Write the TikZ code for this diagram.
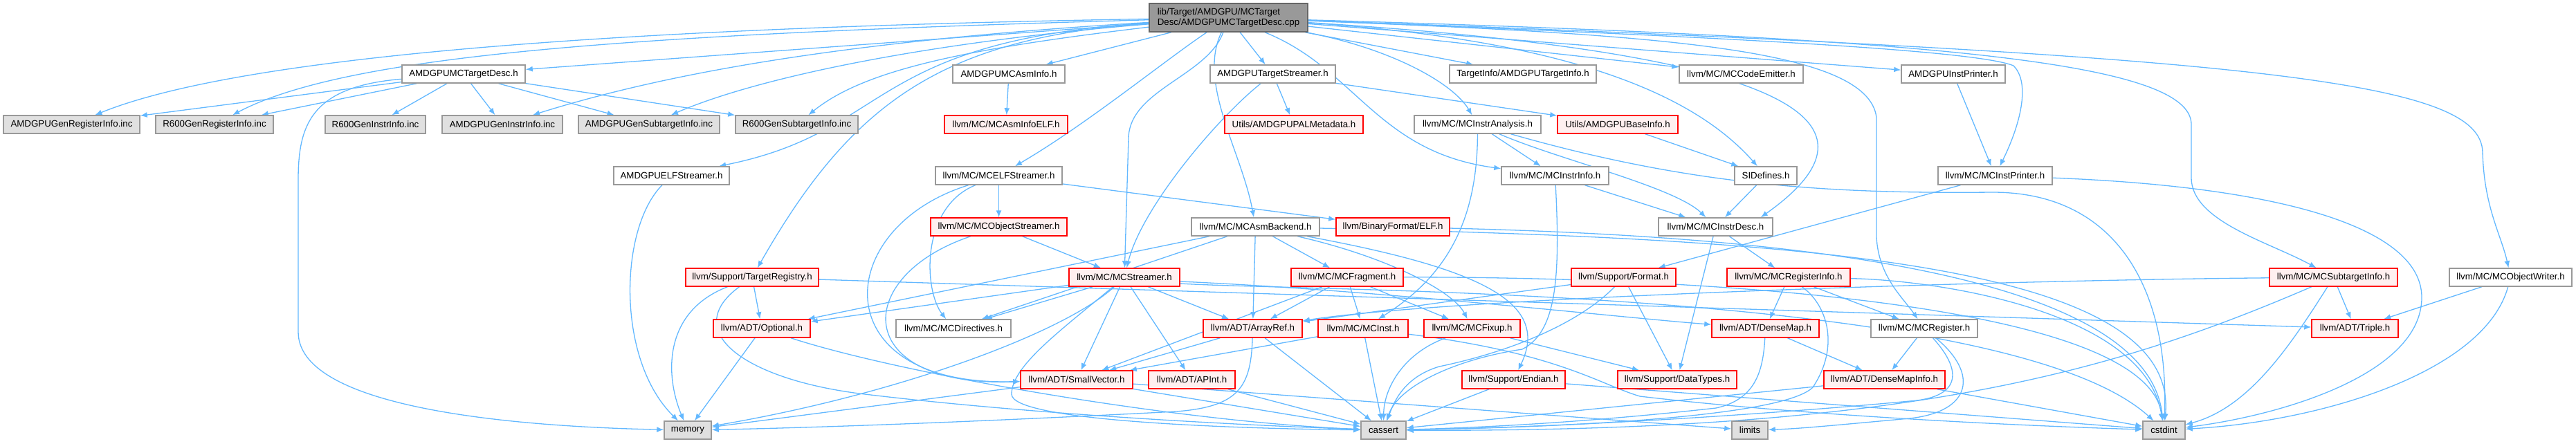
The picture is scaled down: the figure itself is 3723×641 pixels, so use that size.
\documentclass[tikz,border=0pt]{standalone}
\usepackage{fontspec}
\setmainfont{Liberation Sans}
\usetikzlibrary{arrows.meta}
\pgfdeclarelayer{edgelayer}
\pgfsetlayers{edgelayer,main}
\definecolor{edgec}{HTML}{63B8FF}
\definecolor{grayb}{HTML}{999999}
\definecolor{grayf}{HTML}{E0E0E0}
\definecolor{redb}{HTML}{FF0000}
\definecolor{redf}{HTML}{FFF0F0}
\definecolor{rootf}{HTML}{999999}
\definecolor{rootb}{HTML}{666666}
\newcommand\nodefont{\fontsize{13.3}{15.5}\selectfont}
\tikzset{
  boxbase/.style={rectangle, minimum height=26pt, inner sep=0pt, line width=1.5pt, font=\nodefont},
  wn/.style={boxbase, draw=grayb, fill=white},
  gn/.style={boxbase, draw=grayb, fill=grayf},
  rn/.style={boxbase, draw=redb, fill=redf},
  rootn/.style={boxbase, draw=rootb, fill=rootf},
  ed/.style={draw=edgec, line width=1.3pt, -{Latex[length=10pt,width=8pt]}}
}
\begin{document}
\begin{tikzpicture}[x=1pt,y=-1pt]
\useasboundingbox (0,0) rectangle (3723,641);
% root
\node[rootn, minimum width=229pt, minimum height=41pt, align=left] (R) at (1775.5,25.5) {lib/Target/AMDGPU/MCTarget\\Desc/AMDGPUMCTargetDesc.cpp};
% row 1
\node[wn, minimum width=178pt] (TD) at (670,107) {AMDGPUMCTargetDesc.h};
\node[wn, minimum width=162pt] (AsmInfo) at (1458,107) {AMDGPUMCAsmInfo.h};
\node[wn, minimum width=181pt] (TS) at (1839.5,107) {AMDGPUTargetStreamer.h};
\node[wn, minimum width=212pt] (TInfo) at (2201,107) {TargetInfo/AMDGPUTargetInfo.h};
\node[wn, minimum width=179pt] (CodeEm) at (2516.5,107) {llvm/MC/MCCodeEmitter.h};
\node[wn, minimum width=150pt] (AIP) at (2823,107) {AMDGPUInstPrinter.h};
% row 2
\node[gn, minimum width=197pt] (GRI) at (103.5,180) {AMDGPUGenRegisterInfo.inc};
\node[gn, minimum width=170pt] (R6GRI) at (310,180) {R600GenRegisterInfo.inc};
\node[gn, minimum width=145pt] (R6GII) at (542.5,180) {R600GenInstrInfo.inc};
\node[gn, minimum width=174pt] (GII) at (726,180) {AMDGPUGenInstrInfo.inc};
\node[gn, minimum width=204pt] (GSI) at (938,180) {AMDGPUGenSubtargetInfo.inc};
\node[gn, minimum width=177pt] (R6GSI) at (1151.5,180) {R600GenSubtargetInfo.inc};
\node[rn, minimum width=178pt] (AIELF) at (1454,180) {llvm/MC/MCAsmInfoELF.h};
\node[rn, minimum width=200pt] (PAL) at (1870,180) {Utils/AMDGPUPALMetadata.h};
\node[wn, minimum width=183pt] (MIA) at (2135.5,180) {llvm/MC/MCInstrAnalysis.h};
\node[rn, minimum width=174pt] (BI) at (2338,180) {Utils/AMDGPUBaseInfo.h};
% row 3
\node[wn, minimum width=167pt] (ELFS) at (970.5,254) {AMDGPUELFStreamer.h};
\node[wn, minimum width=183pt] (MCE) at (1443.5,254) {llvm/MC/MCELFStreamer.h};
\node[wn, minimum width=155pt] (MII) at (2247.5,254) {llvm/MC/MCInstrInfo.h};
\node[wn, minimum width=90pt] (SID) at (2552,254) {SIDefines.h};
\node[wn, minimum width=165pt] (MIP) at (2883.5,254) {llvm/MC/MCInstPrinter.h};
% row 4
\node[rn, minimum width=197pt] (MOS) at (1443.5,328) {llvm/MC/MCObjectStreamer.h};
\node[wn, minimum width=185pt] (AsmB) at (1814.5,328) {llvm/MC/MCAsmBackend.h};
\node[rn, minimum width=164pt] (ELF) at (2013,328) {llvm/BinaryFormat/ELF.h};
\node[wn, minimum width=165pt] (MID) at (2479.5,328) {llvm/MC/MCInstrDesc.h};
% row 5
\node[rn, minimum width=192pt] (TReg) at (1087,401) {llvm/Support/TargetRegistry.h};
\node[rn, minimum width=160pt] (MCS) at (1625,401) {llvm/MC/MCStreamer.h};
\node[rn, minimum width=162pt] (MCF) at (1947,401) {llvm/MC/MCFragment.h};
\node[rn, minimum width=151pt] (Fmt) at (2346.5,401) {llvm/Support/Format.h};
\node[rn, minimum width=178pt] (MRI) at (2585,401) {llvm/MC/MCRegisterInfo.h};
\node[rn, minimum width=185pt] (MSI) at (3372.5,401) {llvm/MC/MCSubtargetInfo.h};
\node[wn, minimum width=177pt] (MOW) at (3628.5,401) {llvm/MC/MCObjectWriter.h};
% row 6
\node[rn, minimum width=140pt] (Opt) at (1101,475) {llvm/ADT/Optional.h};
\node[wn, minimum width=166pt] (MDir) at (1378,475) {llvm/MC/MCDirectives.h};
\node[rn, minimum width=143pt] (AR) at (1810.5,475) {llvm/ADT/ArrayRef.h};
\node[rn, minimum width=130pt] (MI) at (1970,475) {llvm/MC/MCInst.h};
\node[rn, minimum width=139pt] (MFx) at (2127.5,475) {llvm/MC/MCFixup.h};
\node[rn, minimum width=155pt] (DM) at (2551.5,475) {llvm/ADT/DenseMap.h};
\node[wn, minimum width=154pt] (MR) at (2781,475) {llvm/MC/MCRegister.h};
\node[rn, minimum width=125pt] (Tri) at (3403.5,475) {llvm/ADT/Triple.h};
% row 7
\node[rn, minimum width=162pt] (SV) at (1556,549) {llvm/ADT/SmallVector.h};
\node[rn, minimum width=125pt] (APInt) at (1722.5,549) {llvm/ADT/APInt.h};
\node[rn, minimum width=149pt] (End) at (2187.5,549) {llvm/Support/Endian.h};
\node[rn, minimum width=172pt] (DT) at (2424,549) {llvm/Support/DataTypes.h};
\node[rn, minimum width=175pt] (DMI) at (2723.5,549) {llvm/ADT/DenseMapInfo.h};
% row 8
\node[gn, minimum width=68pt] (mem) at (994,622) {memory};
\node[gn, minimum width=65pt] (cassert) at (1999.5,622) {cassert};
\node[gn, minimum width=52pt] (limits) at (2529,622) {limits};
\node[gn, minimum width=61pt] (cstdint) at (3127.5,622) {cstdint};

\begin{pgfonlayer}{edgelayer}
% ---- edges from root
\draw[ed] (R) .. controls (900,40) and (350,80) .. (GRI);
\draw[ed] (R) .. controls (900,50) and (500,80) .. (R6GRI);
\draw[ed] (R) -- (TD);
\draw[ed] (R) .. controls (1200,60) and (950,110) .. (GII);
\draw[ed] (R) .. controls (1350,60) and (1100,110) .. (GSI);
\draw[ed] (R) .. controls (1400,70) and (1250,100) .. (R6GSI);
\draw[ed] (R) .. controls (1250,60) and (1290,190) .. (ELFS);
\draw[ed] (R) .. controls (1360,55) and (1230,150) .. (TReg);
\draw[ed] (R) -- (AsmInfo);
\draw[ed] (R) .. controls (1680,90) and (1570,180) .. (MCE);
\draw[ed] (R) .. controls (1745,110) and (1632,130) .. (1631,200) -- (MCS);
\draw[ed] (R) .. controls (1730,120) and (1795,220) .. (AsmB);
\draw[ed] (R) -- (TS);
\draw[ed] (R) -- (TInfo);
\draw[ed] (R) .. controls (2010,70) and (2100,120) .. (MIA);
\draw[ed] (R) .. controls (1960,100) and (1990,220) .. (MII);
\draw[ed] (R) .. controls (2300,60) and (2460,150) .. (SID);
\draw[ed] (R) -- (CodeEm);
\draw[ed] (R) .. controls (2650,80) and (2720,190) .. ([xshift=-18pt]MID.north east);
\draw[ed] (R) -- (AIP);
\draw[ed] (R) .. controls (2400,50) and (2850,70) .. (2910,95) .. controls (2935,120) and (2920,180) .. (MIP);
\draw[ed] (R) .. controls (2400,50) and (2700,70) .. (2712,170) -- (2712,343) .. controls (2715,400) and (2750,430) .. (MR);
\draw[ed] (R) .. controls (2800,55) and (3167,90) .. (3167,180) -- (3167,257) .. controls (3167,320) and (3280,350) .. (MSI);
\draw[ed] (R) .. controls (3300,80) and (3585,120) .. (3588,220) .. controls (3590,300) and (3615,340) .. (MOW);

% ---- AMDGPUMCTargetDesc.h
\draw[ed] (TD) -- (GRI);
\draw[ed] (TD) -- (R6GRI);
\draw[ed] (TD) -- (R6GII);
\draw[ed] (TD) -- (GII);
\draw[ed] (TD) -- (GSI);
\draw[ed] (TD) -- (R6GSI);
\draw[ed] (TD) .. controls (450,125) and (431,180) .. (431,260) -- (431,480) .. controls (431,600) and (800,618) .. (mem);

% ---- row 1 others
\draw[ed] (AsmInfo) -- (AIELF);
\draw[ed] (TS) -- (PAL);
\draw[ed] (TS) -- (BI);
\draw[ed] (TS) .. controls (1760,170) and (1650,300) .. (MCS);
\draw[ed] (AIP) -- (MIP);

% ---- row 2/3
\draw[ed] (ELFS) .. controls (895,330) and (890,520) .. (mem);
\draw[ed] (MCE) -- (MOS);
\draw[ed] (MCE) -- (ELF);
\draw[ed] (MCE) .. controls (1330,300) and (1335,420) .. (MDir);
\draw[ed] (MCE) .. controls (1200,330) and (1190,560) .. (SV);
\draw[ed] (MIA) .. controls (2135,320) and (2090,400) .. (MI);
\draw[ed] (MIA) -- (MII);
\draw[ed] (MIA) .. controls (2250,230) and (2420,270) .. (MID);
\draw[ed] (MIA) .. controls (2450,270) and (2650,280) .. (2880,278) .. controls (3060,278) and (3135,420) .. (cstdint);
\draw[ed] (BI) -- (SID);
\draw[ed] (MII) -- (MID);
\draw[ed] (MII) .. controls (2255,400) and (2250,480) .. (2200,505) .. controls (2100,520) and (2020,560) .. (cassert);
\draw[ed] (SID) -- (MID);
\draw[ed] (MIP) -- (Fmt);
\draw[ed] (MIP) .. controls (3300,270) and (3500,330) .. (3500,430) .. controls (3500,540) and (3300,600) .. (cstdint);

% ---- row 4
\draw[ed] (MOS) -- (MCS);
\draw[ed] (MOS) .. controls (1230,400) and (1230,560) .. (SV);
\draw[ed] (AsmB) -- (Opt);
\draw[ed] (AsmB) -- (MDir);
\draw[ed] (AsmB) -- (AR);
\draw[ed] (AsmB) -- (MCF);
\draw[ed] (AsmB) .. controls (2000,370) and (2100,420) .. (MFx);
\draw[ed] (AsmB) .. controls (2150,390) and (2240,440) .. (End);
\draw[ed] (AsmB) .. controls (2600,345) and (3150,380) .. (cstdint);
\draw[ed] (ELF) .. controls (2500,340) and (3100,380) .. (cstdint);
\draw[ed] (MID) -- (MRI);
\draw[ed] (MID) -- (DT);

% ---- row 5
\draw[ed] (TReg) -- (Opt);
\draw[ed] (TReg) .. controls (960,450) and (960,540) .. (mem);
\draw[ed] (TReg) .. controls (980,480) and (1080,550) .. (1250,570) .. controls (1500,600) and (1800,615) .. (cassert);
\draw[ed] (TReg) -- (Tri);
\draw[ed] (MCS) -- (Opt);
\draw[ed] (MCS) -- (MDir);
\draw[ed] (MCS) .. controls (1540,480) and (1300,570) .. (mem);
\draw[ed] (MCS) -- (SV);
\draw[ed] (MCS) .. controls (1530,480) and (1462,530) .. (1462,570) .. controls (1462,610) and (1800,620) .. (cassert);
\draw[ed] (MCS) -- (APInt);
\draw[ed] (MCS) -- (AR);
\draw[ed] ([yshift=-6pt]MCS.east) .. controls (2000,420) and (2350,460) .. (DM);
\draw[ed] ([yshift=-9pt]MCS.east) .. controls (1900,422) and (2900,415) .. (cstdint);
\draw[ed] (MCF) -- (AR);
\draw[ed] (MCF) -- (SV);
\draw[ed] (MCF) -- (MI);
\draw[ed] (MCF) -- (MFx);
\draw[ed] (MCF) .. controls (2400,400) and (3100,430) .. (cstdint);
\draw[ed] (Fmt) -- (AR);
\draw[ed] (Fmt) .. controls (2290,460) and (2200,505) .. (2080,530) .. controls (2030,545) and (2015,580) .. (cassert);
\draw[ed] (Fmt) -- (DT);
\draw[ed] (MRI) -- (DM);
\draw[ed] (MRI) -- (MR);
\draw[ed] (MRI) .. controls (2640,440) and (2660,500) .. (2620,560) .. controls (2580,600) and (2300,617) .. (cassert);
\draw[ed] (MRI) .. controls (2800,405) and (3100,450) .. (cstdint);
\draw[ed] (MSI) -- (Tri);
\draw[ed] (MSI) .. controls (3050,540) and (2750,625) .. (cassert);
\draw[ed] (MSI) .. controls (3310,500) and (3250,590) .. (cstdint);
\draw[ed] (MSI) .. controls (2900,405) and (2100,430) .. (AR);
\draw[ed] (MOW) -- (Tri);
\draw[ed] (MOW) .. controls (3590,540) and (3350,610) .. (cstdint);

% ---- row 6
\draw[ed] (Opt) -- (mem);
\draw[ed] (Opt) .. controls (1300,540) and (1700,610) .. (cassert);
\draw[ed] (AR) -- (SV);
\draw[ed] (AR) .. controls (1808,560) and (1790,588) .. (1700,595) .. controls (1450,608) and (1200,618) .. (mem);
\draw[ed] (AR) -- (cassert);
\draw[ed] (MI) -- (SV);
\draw[ed] (MI) -- (cassert);
\draw[ed] (MI) .. controls (2250,510) and (2310,555) .. (2370,573) .. controls (2600,600) and (2900,615) .. (cstdint);
\draw[ed] (MFx) .. controls (2030,510) and (2000,560) .. (cassert);
\draw[ed] (MFx) -- (DT);
\draw[ed] (DM) -- (DMI);
\draw[ed] (DM) .. controls (2548,540) and (2535,578) .. (2480,590) .. controls (2300,610) and (2150,618) .. (cassert);
\draw[ed] (MR) -- (DMI);
\draw[ed] (MR) .. controls (2840,540) and (2830,575) .. (2760,580) .. controls (2600,595) and (2300,617) .. (cassert);
\draw[ed] (MR) .. controls (2860,540) and (2850,595) .. (2760,605) .. controls (2650,615) and (2600,620) .. (limits);

% ---- row 7
\draw[ed] (SV) -- (mem);
\draw[ed] (SV) -- (cassert);
\draw[ed] (SV) -- (limits);
\draw[ed] (APInt) -- (cassert);
\draw[ed] (End) -- (cassert);
\draw[ed] (End) -- (cstdint);
\draw[ed] (DMI) -- (cassert);
\draw[ed] (DMI) -- (cstdint);
\end{pgfonlayer}
\end{tikzpicture}
\end{document}
